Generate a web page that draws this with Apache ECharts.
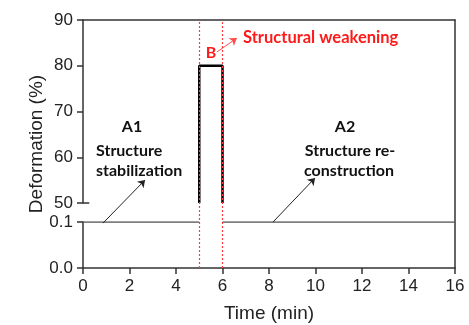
<!DOCTYPE html>
<html>
<head>
<meta charset="utf-8">
<script src="https://cdn.jsdelivr.net/npm/echarts@6/dist/echarts.min.js"></script>
<style>html,body{margin:0;padding:0;background:#fff}#c{width:469px;height:325px}</style>
</head>
<body>
<div id="c"></div>
<script>
// ---- data ----
const timeTicks = [0, 2, 4, 6, 8, 10, 12, 14, 16];
const upperTicks = [50, 60, 70, 80, 90];
const lowerTicks = [0.0, 0.1];
const a1Time = [0, 5];
const a1Def = [0.1, 0.1];
const a2Time = [6, 16];
const a2Def = [0.1, 0.1];
const bTime = [5, 5, 6, 6];
const bDef = [50, 80, 80, 50];
const phaseBounds = [5, 6];

const zip = (xs, ys) => xs.map((x, i) => [x, ys[i]]);
const AX = '#333';
const TXT = '#222';
const RED = '#ff1a1a';
const FONT = 'Liberation Sans';
const BF = 'bold 16px Lato';

const chart = echarts.init(document.getElementById('c'), null, {renderer: 'canvas'});
const option = {
  animation: false,
  backgroundColor: '#fff',
  grid: [
    {left: 83, right: 14, top: 20, height: 183},   // upper 50-90
    {left: 83, right: 14, top: 222, height: 46},   // lower 0-0.1
    {left: 83, right: 14, top: 20, bottom: 57}     // overall frame
  ],
  xAxis: [
    {gridIndex: 0, type: 'value', min: 0, max: 16, interval: 2, show: false},
    {gridIndex: 1, type: 'value', min: 0, max: 16, interval: 2,
     axisLine: {show: true, lineStyle: {color: AX, width: 1.5}},
     axisTick: {show: true, length: 6, lineStyle: {color: AX, width: 1.5}},
     axisLabel: {color: TXT, fontSize: 17, fontFamily: FONT, margin: 10,
       customValues: timeTicks},
     splitLine: {show: false},
     name: 'Time (min)', nameLocation: 'middle', nameGap: 36,
     nameTextStyle: {color: TXT, fontSize: 19, fontFamily: FONT}},
    {gridIndex: 2, type: 'value', min: 0, max: 16, position: 'top',
     axisLine: {show: true, onZero: false, lineStyle: {color: AX, width: 1.5}},
     axisTick: {show: false}, axisLabel: {show: false}, splitLine: {show: false}}
  ],
  yAxis: [
    {gridIndex: 0, type: 'value', min: 50, max: 90, interval: 10,
     axisLine: {show: true, lineStyle: {color: AX, width: 1.5}},
     axisTick: {show: true, length: 6, lineStyle: {color: AX, width: 1.5}},
     axisLabel: {color: TXT, fontSize: 17, fontFamily: FONT, margin: 10},
     splitLine: {show: false}},
    {gridIndex: 1, type: 'value', min: 0, max: 0.1, interval: 0.1,
     axisLine: {show: true, lineStyle: {color: AX, width: 1.5}},
     axisTick: {show: true, length: 6, lineStyle: {color: AX, width: 1.5}},
     axisLabel: {color: TXT, fontSize: 17, fontFamily: FONT, margin: 10,
       formatter: v => v.toFixed(1)},
     splitLine: {show: false}},
    {gridIndex: 2, type: 'value', min: 0, max: 1, position: 'right',
     axisLine: {show: true, onZero: false, lineStyle: {color: AX, width: 1.5}},
     axisTick: {show: false}, axisLabel: {show: false}, splitLine: {show: false}},
    {gridIndex: 2, type: 'value', min: 0, max: 1, position: 'left',
     axisLine: {show: false}, axisTick: {show: false}, axisLabel: {show: false},
     splitLine: {show: false},
     name: 'Deformation (%)', nameLocation: 'middle', nameGap: 37,
     nameTextStyle: {color: TXT, fontSize: 19, fontFamily: FONT}}
  ],
  series: [
    {type: 'line', xAxisIndex: 1, yAxisIndex: 1, data: zip(a1Time, a1Def),
     symbol: 'none', lineStyle: {color: '#555', width: 1.5}, z: 3},
    {type: 'line', xAxisIndex: 1, yAxisIndex: 1, data: zip(a2Time, a2Def),
     symbol: 'none', lineStyle: {color: '#555', width: 1.5}, z: 3},
    {type: 'line', xAxisIndex: 0, yAxisIndex: 0, data: zip(bTime, bDef),
     symbol: 'none', lineStyle: {color: '#000', width: 2.5}, z: 3,
     markLine: {silent: true, symbol: 'none', label: {show: false},
       lineStyle: {color: AX, width: 1.5, type: 'solid'},
       data: [[{coord: [0, upperTicks[0]]}, {coord: [0.27, upperTicks[0]]}]]}},
    {type: 'line', xAxisIndex: 2, yAxisIndex: 2, data: [], z: 5,
     markLine: {silent: true, symbol: 'none', label: {show: false},
       lineStyle: {color: '#ff3b3b', width: 1.2, type: [2, 2]},
       data: phaseBounds.map(v => ({xAxis: v}))}},
    {type: 'line', xAxisIndex: 2, yAxisIndex: 2, data: [], z: 6,
     markLine: {silent: true, symbol: ['none', 'arrow'], symbolSize: 7,
       label: {show: false},
       data: [
         [{coord: [0.86, 0.181], lineStyle: {color: '#222', width: 1, type: 'solid'}}, {coord: [2.67, 0.355]}],
         [{coord: [8.17, 0.185], lineStyle: {color: '#222', width: 1, type: 'solid'}}, {coord: [9.98, 0.363]}],
         [{coord: [5.76, 0.871], lineStyle: {color: '#ff4d4d', width: 1, type: 'solid'}, itemStyle: {color: '#ff4d4d'}}, {coord: [6.62, 0.927]}]
       ]}}
  ],
  graphic: [
    {type: 'text', x: 132, y: 127, style: {text: 'A1', font: BF, fill: '#111', textAlign: 'center', textVerticalAlign: 'middle'}},
    {type: 'text', x: 96, y: 151, style: {text: 'Structure', font: BF, fill: '#111', textAlign: 'left', textVerticalAlign: 'middle'}},
    {type: 'text', x: 96, y: 171, style: {text: 'stabilization', font: BF, fill: '#111', textAlign: 'left', textVerticalAlign: 'middle'}},
    {type: 'text', x: 345, y: 127, style: {text: 'A2', font: BF, fill: '#111', textAlign: 'center', textVerticalAlign: 'middle'}},
    {type: 'text', x: 350, y: 151, style: {text: 'Structure re-', font: BF, fill: '#111', textAlign: 'center', textVerticalAlign: 'middle'}},
    {type: 'text', x: 349, y: 171, style: {text: 'construction', font: BF, fill: '#111', textAlign: 'center', textVerticalAlign: 'middle'}},
    {type: 'text', x: 211, y: 53, style: {text: 'B', font: BF, fill: RED, textAlign: 'center', textVerticalAlign: 'middle'}},
    {type: 'text', x: 243, y: 38, style: {text: 'Structural weakening', font: 'bold 16.5px Lato', fill: RED, textAlign: 'left', textVerticalAlign: 'middle'}}
  ]
};
chart.setOption(option);
</script>
</body>
</html>
